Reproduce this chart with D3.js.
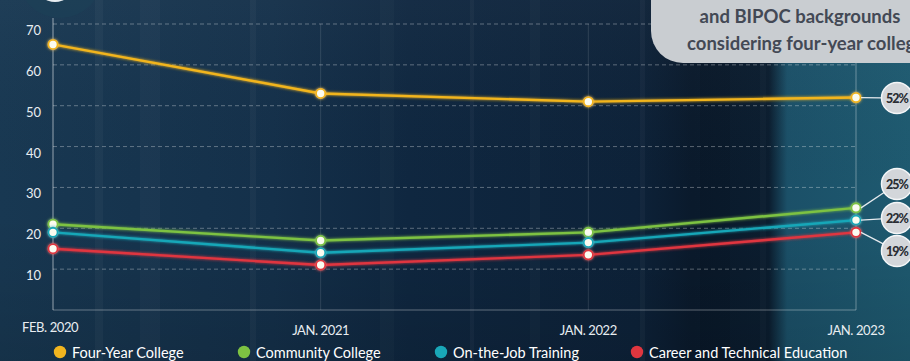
<!DOCTYPE html>
<html>
<head>
<meta charset="utf-8">
<script src="https://cdn.jsdelivr.net/npm/d3@7/dist/d3.min.js"></script>
<style>
  html, body { margin: 0; padding: 0; background: #0f2740; }
  svg { display: block; }
</style>
</head>
<body>
<svg id="chart" width="910" height="361"></svg>
<script>
// Survey waves
const periods = ["FEB. 2020", "JAN. 2021", "JAN. 2022", "JAN. 2023"];
// Share (%) considering each pathway
const fourYear = [65, 53, 51, 52];
const community = [21, 17, 19, 25];
const onTheJob = [19, 14, 16.5, 22];
const careerTech = [15, 11, 13.5, 19];
const seriesNames = ["Four-Year College", "Community College", "On-the-Job Training", "Career and Technical Education"];
const seriesColors = ["#f2b51f", "#7dc242", "#19a7b8", "#e0363f"];
const yTicks = [10, 20, 30, 40, 50, 60, 70];

const series = [fourYear, community, onTheJob, careerTech].map((values, i) => ({
  name: seriesNames[i], color: seriesColors[i], values
}));

const svg = d3.select("#chart");
const W = 910, H = 361;

const x = d3.scalePoint().domain(periods).range([53, 856]);
const y = d3.scaleLinear().domain([0, 70]).range([310, 24]);

const defs = svg.append("defs");

// Background: navy on the left fading to a dark band, then teal at the right
const bg = defs.append("linearGradient").attr("id", "bg").attr("x1", 0).attr("x2", 1).attr("y1", 0).attr("y2", 0);
[[0, "#183852"], [0.3, "#14304a"], [0.45, "#0f2740"], [0.7, "#0d2239"], [0.76, "#0a1a2c"], [0.845, "#0b1d2f"], [0.865, "#1b5068"], [1, "#1e5a70"]]
  .forEach(([o, c]) => bg.append("stop").attr("offset", o).attr("stop-color", c));
svg.append("rect").attr("width", W).attr("height", H).attr("fill", "url(#bg)");

// vertical shading vignette
const vg = defs.append("linearGradient").attr("id", "vg").attr("x1", 0).attr("x2", 0).attr("y1", 0).attr("y2", 1);
vg.append("stop").attr("offset", 0).attr("stop-color", "#ffffff").attr("stop-opacity", 0.03);
vg.append("stop").attr("offset", 0.6).attr("stop-color", "#000000").attr("stop-opacity", 0);
vg.append("stop").attr("offset", 1).attr("stop-color", "#000000").attr("stop-opacity", 0.12);
svg.append("rect").attr("width", W).attr("height", H).attr("fill", "url(#vg)");

// soft vertical streaks in the backdrop
const streaks = [[95, 8, 0.03], [140, 20, 0.025], [250, 6, 0.03], [380, 14, 0.02], [470, 4, 0.03], [530, 10, 0.02], [640, 5, 0.03], [700, 30, -0.06], [760, 6, 0.02]];
svg.append("g").selectAll("rect").data(streaks).join("rect")
  .attr("x", d => d[0]).attr("y", 0).attr("width", d => d[1]).attr("height", H)
  .attr("fill", d => d[2] > 0 ? "#ffffff" : "#000000")
  .attr("opacity", d => Math.abs(d[2]));

// glow filter for lines and markers
const glow = defs.append("filter").attr("id", "glow").attr("x", "-50%").attr("y", "-50%").attr("width", "200%").attr("height", "200%");
glow.append("feGaussianBlur").attr("in", "SourceGraphic").attr("stdDeviation", 1.6).attr("result", "b");
const gm = glow.append("feMerge");
gm.append("feMergeNode").attr("in", "b");
gm.append("feMergeNode").attr("in", "SourceGraphic");

// top-left badge (partially off-canvas)
svg.append("circle").attr("cx", 60).attr("cy", -24).attr("r", 42).attr("fill", "#1d3f57").attr("opacity", 0.9);
svg.append("ellipse").attr("cx", 55).attr("cy", -14).attr("rx", 18).attr("ry", 16).attr("fill", "#e9eef2");

// Gridlines
svg.append("g").selectAll("line").data(yTicks).join("line")
  .attr("x1", x(periods[0])).attr("x2", x(periods[periods.length - 1]))
  .attr("y1", d => y(d)).attr("y2", d => y(d))
  .attr("stroke", "#ffffff").attr("stroke-opacity", 0.32)
  .attr("stroke-width", 1).attr("stroke-dasharray", "4,3");

// faint verticals at each survey wave
svg.append("g").selectAll("line").data(periods.slice(1)).join("line")
  .attr("x1", d => x(d)).attr("x2", d => x(d))
  .attr("y1", y(70)).attr("y2", y(0))
  .attr("stroke", "#ffffff").attr("stroke-opacity", d => d === periods[3] ? 0.35 : 0.12);

// Axes frame
svg.append("line").attr("x1", x(periods[0])).attr("x2", x(periods[0])).attr("y1", y(70) - 6).attr("y2", y(0))
  .attr("stroke", "#ffffff").attr("stroke-opacity", 0.55);
svg.append("line").attr("x1", x(periods[0])).attr("x2", x(periods[3])).attr("y1", y(0)).attr("y2", y(0))
  .attr("stroke", "#ffffff").attr("stroke-opacity", 0.35);

// Y tick labels
svg.append("g").selectAll("text").data(yTicks).join("text")
  .attr("x", 41).attr("y", d => y(d) + 11)
  .attr("text-anchor", "end")
  .attr("font-family", "Lato, sans-serif").attr("font-size", 13)
  .attr("fill", "#e8edf1")
  .text(d => d);

// X tick labels
svg.append("g").selectAll("text").data(periods).join("text")
  .attr("x", (d, i) => i === 0 ? 22 : x(d))
  .attr("y", (d, i) => i === 0 ? 332 : 335)
  .attr("text-anchor", (d, i) => i === 0 ? "start" : "middle")
  .attr("font-family", "Lato, sans-serif").attr("font-size", 13)
  .attr("letter-spacing", -0.4)
  .attr("fill", "#e8edf1")
  .text(d => d);

// Callout box at top right, running off the canvas edge
svg.append("rect").attr("x", 651).attr("y", -60).attr("width", 320).attr("height", 123).attr("rx", 32)
  .attr("fill", "#c9cdd1");
svg.append("text").attr("x", 800).attr("y", 23).attr("text-anchor", "middle")
  .attr("font-family", "Lato, sans-serif").attr("font-weight", 700).attr("font-size", 18.5)
  .attr("fill", "#434955").text("and BIPOC backgrounds");
svg.append("text").attr("x", 687).attr("y", 50).attr("text-anchor", "start")
  .attr("font-family", "Lato, sans-serif").attr("font-weight", 700).attr("font-size", 18.5)
  .attr("fill", "#434955").text("considering four-year college");

// Lines
const line = d3.line().x((d, i) => x(periods[i])).y(d => y(d));
const lines = svg.append("g");
series.slice().reverse().forEach(s => {
  lines.append("path").datum(s.values)
    .attr("d", line).attr("fill", "none")
    .attr("stroke", s.color).attr("stroke-width", 2.4)
    .attr("filter", "url(#glow)");
});

// Markers
series.forEach(s => {
  svg.append("g").selectAll("circle").data(s.values).join("circle")
    .attr("cx", (d, i) => x(periods[i])).attr("cy", d => y(d))
    .attr("r", 4.6)
    .attr("fill", "#fbfbf0")
    .attr("stroke", s.color).attr("stroke-width", 1.8)
    .attr("filter", "url(#glow)");
});

// End labels with leader lines
const labelY = [98, 184, 218, 251];
const lastIdx = periods.length - 1;
const lx = 897, lr = 15.5;
series.forEach((s, i) => {
  const v = s.values[lastIdx];
  const px = x(periods[lastIdx]) + 5, py = y(v);
  const ang = Math.atan2(labelY[i] - py, lx - px);
  svg.append("line")
    .attr("x1", px).attr("y1", py)
    .attr("x2", lx - lr * Math.cos(ang)).attr("y2", labelY[i] - lr * Math.sin(ang))
    .attr("stroke", "#e6ebef").attr("stroke-width", 1.3);
  svg.append("circle").attr("cx", lx).attr("cy", labelY[i]).attr("r", lr)
    .attr("fill", "#d3d6da").attr("stroke", "#f4f6f8").attr("stroke-width", 1.5);
  svg.append("text").attr("x", lx).attr("y", labelY[i] + 4.5)
    .attr("text-anchor", "middle")
    .attr("font-family", "Lato, sans-serif").attr("font-weight", 900).attr("font-size", 12.5)
    .attr("letter-spacing", -0.9)
    .attr("fill", "#2a2d33")
    .text(Math.round(v) + "%");
});

// Legend
const legendX = [60, 244, 441, 637];
const legend = svg.append("g");
series.forEach((s, i) => {
  legend.append("circle").attr("cx", legendX[i]).attr("cy", 352).attr("r", 6.2).attr("fill", s.color);
  legend.append("text").attr("x", legendX[i] + 12).attr("y", 357.5)
    .attr("font-family", "Lato, sans-serif").attr("font-size", 14.5)
    .attr("fill", "#ffffff").text(s.name);
});
</script>
</body>
</html>
